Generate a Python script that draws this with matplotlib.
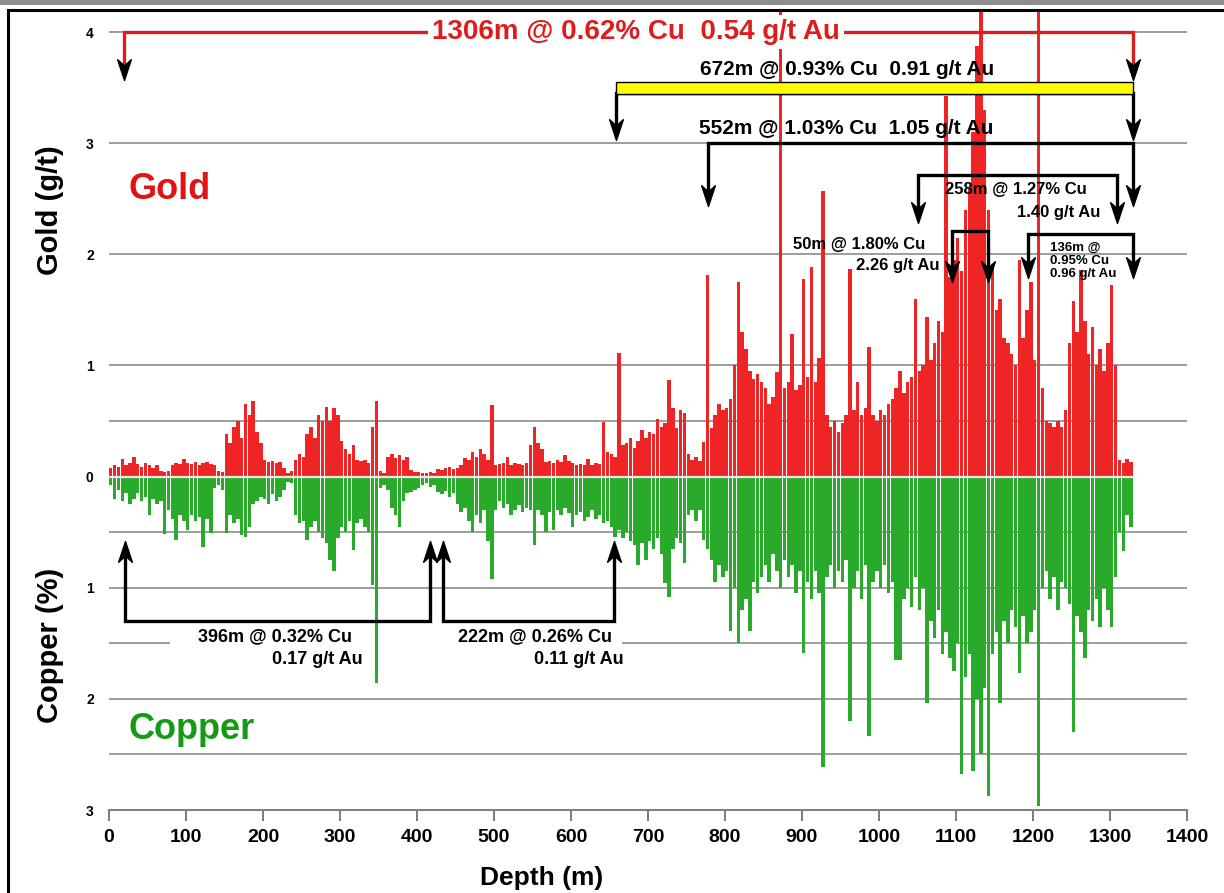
import numpy as np
import matplotlib
matplotlib.use('Agg')
import matplotlib.pyplot as plt
from matplotlib.path import Path
from matplotlib.patches import Rectangle
from matplotlib.lines import Line2D

plt.rcParams['font.family'] = ['Liberation Sans', 'DejaVu Sans']

# assays, 5 m composites from surface
depth = np.arange(0, 1330, 5)
gold = [
    0.08, 0.10, 0.09, 0.16, 0.10, 0.12, 0.18, 0.11, 0.09, 0.12,
    0.10, 0.08, 0.10, 0.05, 0.04, 0.05, 0.10, 0.12, 0.11, 0.16,
    0.12, 0.11, 0.13, 0.10, 0.12, 0.13, 0.11, 0.10, 0.05, 0.04,
    0.38, 0.30, 0.45, 0.50, 0.35, 0.65, 0.55, 0.68, 0.40, 0.30,
    0.15, 0.13, 0.14, 0.12, 0.13, 0.08, 0.03, 0.05, 0.15, 0.20,
    0.18, 0.38, 0.45, 0.35, 0.55, 0.50, 0.63, 0.50, 0.62, 0.55,
    0.32, 0.25, 0.20, 0.28, 0.15, 0.14, 0.15, 0.12, 0.45, 0.68,
    0.05, 0.03, 0.18, 0.20, 0.17, 0.19, 0.15, 0.18, 0.06, 0.04,
    0.04, 0.03, 0.03, 0.04, 0.03, 0.07, 0.06, 0.08, 0.09, 0.07,
    0.08, 0.10, 0.17, 0.15, 0.22, 0.18, 0.25, 0.20, 0.15, 0.64,
    0.10, 0.11, 0.12, 0.18, 0.10, 0.12, 0.11, 0.10, 0.12, 0.28,
    0.45, 0.30, 0.25, 0.13, 0.14, 0.12, 0.15, 0.13, 0.19, 0.14,
    0.12, 0.10, 0.11, 0.10, 0.16, 0.10, 0.12, 0.11, 0.49, 0.22,
    0.20, 0.18, 1.11, 0.28, 0.30, 0.35, 0.26, 0.32, 0.42, 0.35,
    0.40, 0.38, 0.52, 0.45, 0.48, 0.87, 0.62, 0.44, 0.60, 0.57,
    0.20, 0.15, 0.18, 0.14, 0.31, 1.81, 0.44, 0.55, 0.65, 0.60,
    0.62, 0.70, 1.00, 1.75, 1.30, 1.15, 0.95, 0.88, 0.92, 0.85,
    0.80, 0.65, 0.72, 0.94, 4.50, 0.80, 0.85, 1.28, 0.78, 0.82,
    1.78, 0.90, 1.89, 0.85, 1.07, 2.57, 0.55, 0.45, 0.50, 0.40,
    0.48, 0.55, 1.87, 0.60, 0.85, 0.55, 0.62, 1.17, 0.55, 0.50,
    0.60, 0.55, 0.65, 0.70, 0.80, 0.95, 0.75, 0.85, 0.90, 1.60,
    0.95, 1.00, 1.44, 1.05, 1.20, 1.40, 1.30, 3.42, 1.80, 1.95,
    2.15, 1.85, 2.40, 2.60, 3.10, 3.87, 4.50, 3.30, 2.40, 1.90,
    1.50, 1.60, 1.25, 1.20, 1.10, 1.00, 1.95, 1.25, 1.50, 1.75,
    1.05, 4.50, 0.80, 0.50, 0.48, 0.45, 0.50, 0.45, 0.60, 1.20,
    1.58, 1.30, 1.86, 1.40, 1.10, 1.35, 1.00, 1.15, 0.95, 1.20,
    1.72, 1.00, 0.15, 0.12, 0.16, 0.13,
]
copper = [
    0.08, 0.20, 0.12, 0.22, 0.15, 0.25, 0.20, 0.15, 0.22, 0.18,
    0.35, 0.20, 0.25, 0.22, 0.52, 0.30, 0.38, 0.57, 0.35, 0.40,
    0.48, 0.35, 0.40, 0.36, 0.63, 0.38, 0.51, 0.10, 0.08, 0.12,
    0.51, 0.35, 0.42, 0.38, 0.53, 0.54, 0.45, 0.25, 0.22, 0.18,
    0.20, 0.25, 0.16, 0.22, 0.18, 0.12, 0.05, 0.06, 0.35, 0.42,
    0.40, 0.57, 0.45, 0.40, 0.50, 0.55, 0.60, 0.75, 0.85, 0.55,
    0.45, 0.50, 0.40, 0.66, 0.42, 0.38, 0.45, 0.50, 0.98, 1.86,
    0.10, 0.08, 0.12, 0.28, 0.35, 0.45, 0.22, 0.15, 0.14, 0.12,
    0.10, 0.08, 0.06, 0.09, 0.08, 0.14, 0.16, 0.13, 0.18, 0.15,
    0.25, 0.32, 0.28, 0.40, 0.50, 0.35, 0.42, 0.30, 0.58, 0.92,
    0.30, 0.22, 0.28, 0.25, 0.35, 0.30, 0.26, 0.32, 0.28, 0.30,
    0.62, 0.30, 0.35, 0.50, 0.32, 0.48, 0.30, 0.35, 0.28, 0.33,
    0.45, 0.35, 0.32, 0.40, 0.36, 0.30, 0.38, 0.35, 0.42, 0.40,
    0.45, 0.54, 0.48, 0.55, 0.50, 0.58, 0.62, 0.80, 0.60, 0.75,
    0.58, 0.65, 0.55, 0.70, 0.96, 1.08, 0.65, 0.55, 0.60, 0.78,
    0.35, 0.30, 0.40, 0.30, 0.57, 0.65, 0.75, 0.95, 0.80, 0.90,
    0.85, 1.39, 1.00, 1.50, 1.20, 1.10, 1.39, 0.95, 1.05, 0.90,
    0.80, 0.95, 0.70, 0.85, 1.00, 0.75, 0.90, 0.80, 1.05, 0.85,
    1.59, 0.95, 1.10, 0.85, 1.05, 2.61, 0.90, 0.80, 1.00, 0.85,
    0.95, 0.75, 2.20, 1.00, 0.85, 1.10, 0.80, 2.33, 0.95, 0.85,
    1.00, 0.80, 1.05, 0.95, 1.65, 1.65, 1.10, 1.00, 1.17, 0.90,
    1.20, 1.00, 2.04, 1.30, 1.45, 1.20, 1.60, 1.40, 1.63, 1.75,
    1.50, 2.68, 1.80, 1.60, 2.65, 2.00, 2.50, 1.90, 2.87, 1.60,
    1.40, 2.04, 1.30, 1.50, 1.20, 1.35, 1.77, 1.25, 1.50, 1.40,
    1.20, 2.96, 1.00, 0.85, 1.10, 0.90, 1.20, 0.95, 1.00, 1.15,
    2.30, 1.25, 1.40, 1.63, 1.20, 1.30, 1.10, 1.35, 1.00, 1.20,
    1.35, 0.90, 0.50, 0.67, 0.35, 0.45,
]

# mineralised intervals (from, to) in metres
int_1306 = (20, 1330)
int_672 = (658, 1330)
int_552 = (778, 1330)
int_258 = (1051, 1309)
int_50 = (1095, 1141)
int_136 = (1194, 1330)
int_396 = (21, 417)
int_222 = (434, 656)

RED = '#ef2424'
GREEN = '#2aaa2a'

fig = plt.figure(figsize=(12.24, 8.93), dpi=100)
ax = fig.add_axes([109 / 1224, 83 / 893, 1078 / 1224, 798 / 893])
ax.set_xlim(0, 1400)
ax.set_ylim(-3, 4.18)

for g in [4, 3, 2, 1, 0.5, -0.5, -1, -1.5, -2, -2.5]:
    ax.axhline(g, color='#8c8c8c', lw=1.2, zorder=0.5)

# white patch behind the lower labels (hides the grid line there)
ax.add_patch(Rectangle((79, -1.75), 587, 0.33, facecolor='white', edgecolor='none', zorder=0.8))

ax.bar(depth, gold, width=4.5, align='edge', color=RED, lw=0, zorder=2)
ax.bar(depth, -np.array(copper), width=4.5, align='edge', color=GREEN, lw=0, zorder=2)
ax.plot([0, 1330], [0, 0], color='#e8e8e8', lw=1.6, zorder=2.5)

DOWN = Path([(0, 0), (-0.33, 1), (0, 0.7), (0.33, 1), (0, 0)],
            [Path.MOVETO, Path.LINETO, Path.LINETO, Path.LINETO, Path.CLOSEPOLY])
UP = Path([(0, 0), (-0.33, -1), (0, -0.7), (0.33, -1), (0, 0)],
          [Path.MOVETO, Path.LINETO, Path.LINETO, Path.LINETO, Path.CLOSEPOLY])


def bracket(span, y_line, y_tip, color='black', up=False):
    x0, x1 = span
    off = -0.14 if up else 0.14
    ax.plot([x0, x0, x1, x1], [y_tip + off, y_line, y_line, y_tip + off],
            color=color, lw=2.4, solid_joinstyle='miter', zorder=5)
    ax.plot([x0, x1], [y_tip, y_tip], ls='none', marker=UP if up else DOWN,
            ms=30, color='black', zorder=6)


bracket(int_1306, 4.0, 3.57, color='#d81e1e')
bracket(int_672, 3.45, 3.03)
ax.add_patch(Rectangle((int_672[0], 3.44), int_672[1] - int_672[0], 0.11,
                       facecolor='#ffff00', edgecolor='black', lw=1, zorder=5.5))
bracket(int_552, 3.0, 2.43)
bracket(int_258, 2.71, 2.28)
bracket(int_50, 2.21, 1.75)
bracket(int_136, 2.18, 1.79)
bracket(int_396, -1.30, -0.58, up=True)
bracket(int_222, -1.30, -0.58, up=True)

bold = dict(fontweight='bold', zorder=7)
ax.text(684, 4.0, '1306m @ 0.62% Cu  0.54 g/t Au', color='#dd1c1c', fontsize=20,
        ha='center', va='center', bbox=dict(facecolor='white', edgecolor='none', pad=3), **bold)
ax.text(958, 3.66, '672m @ 0.93% Cu  0.91 g/t Au', fontsize=15, ha='center', va='center', **bold)
ax.text(958, 3.13, '552m @ 1.03% Cu  1.05 g/t Au', fontsize=15, ha='center', va='center', **bold)
ax.text(1178, 2.58, '258m @ 1.27% Cu', fontsize=12, ha='center', va='center', **bold)
ax.text(1287, 2.38, '1.40 g/t Au', fontsize=12, ha='right', va='center', **bold)
ax.text(974, 2.09, '50m @ 1.80% Cu', fontsize=12, ha='center', va='center', **bold)
ax.text(1079, 1.90, '2.26 g/t Au', fontsize=12, ha='right', va='center', **bold)
ax.text(1222, 1.94, '136m @\n0.95% Cu\n0.96 g/t Au', fontsize=9.5, ha='left', va='center',
        linespacing=1.15, **bold)
ax.text(316, -1.44, '396m @ 0.32% Cu', fontsize=13, ha='right', va='center', **bold)
ax.text(329, -1.65, '0.17 g/t Au', fontsize=13, ha='right', va='center', **bold)
ax.text(653, -1.44, '222m @ 0.26% Cu', fontsize=13, ha='right', va='center', **bold)
ax.text(668, -1.65, '0.11 g/t Au', fontsize=13, ha='right', va='center', **bold)

ax.text(25, 2.58, 'Gold', color='#e01414', fontsize=26, ha='left', va='center', **bold)
ax.text(25, -2.28, 'Copper', color='#159a15', fontsize=26, ha='left', va='center', **bold)

# axes styling
for s in ['top', 'right', 'left']:
    ax.spines[s].set_visible(False)
ax.spines['bottom'].set_color('#808080')
ax.spines['bottom'].set_linewidth(1.5)
ax.set_xticks(np.arange(0, 1401, 100))
ax.set_xticklabels([str(v) for v in range(0, 1401, 100)], fontweight='bold', fontsize=14)
ax.tick_params(axis='x', direction='out', length=8, width=1.3, color='#707070', pad=6)
ax.set_yticks([4, 3, 2, 1, 0, -1, -2, -3])
ax.set_yticklabels(['4', '3', '2', '1', '0', '1', '2', '3'], fontweight='bold', fontsize=10)
ax.tick_params(axis='y', length=0, pad=11)

lab = dict(fontweight='bold', ha='center', va='center')
fig.text(542 / 1224, 1 - 878 / 893, 'Depth (m)', fontsize=19, **lab)
fig.text(50 / 1224, 1 - 210 / 893, 'Gold (g/t)', fontsize=21, rotation=90, **lab)
fig.text(50 / 1224, 1 - 645 / 893, 'Copper (%)', fontsize=21, rotation=90, **lab)

# picture frame
fig.patches.append(Rectangle((0, 1 - 5 / 893), 1, 5 / 893, transform=fig.transFigure,
                             facecolor='#8e8e8e', edgecolor='none'))
fig.lines.append(Line2D([8 / 1224, 1], [1 - 10 / 893, 1 - 10 / 893], transform=fig.transFigure,
                        color='black', lw=2.2))
fig.lines.append(Line2D([8 / 1224, 8 / 1224], [0, 1 - 10 / 893], transform=fig.transFigure,
                        color='black', lw=2.2))

fig.savefig('out.png', dpi=100)
